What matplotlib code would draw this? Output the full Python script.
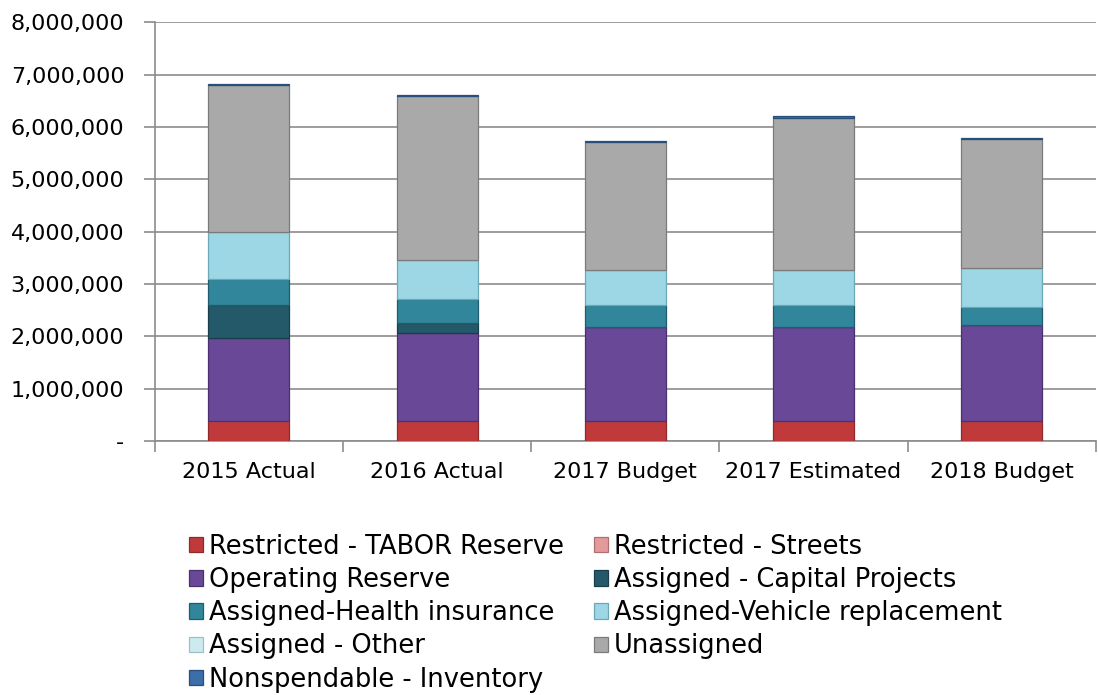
import matplotlib
matplotlib.use("Agg")
import matplotlib.pyplot as plt
import numpy as np

# ── Data ──────────────────────────────────────────────────────────────────────

categories = ["2015 Actual", "2016 Actual", "2017 Budget", "2017 Estimated", "2018 Budget"]

tabor        = [380000, 380000, 380000, 380000, 380000]
streets      = [0, 0, 0, 0, 0]
operating    = [1590000, 1680000, 1800000, 1800000, 1830000]
capital      = [630000, 190000, 0, 0, 0]
health       = [490000, 460000, 420000, 420000, 350000]
vehicle      = [900000, 740000, 660000, 660000, 740000]
other        = [0, 0, 0, 0, 0]
unassigned   = [2810000, 3140000, 2450000, 2920000, 2460000]
nonspendable = [25000, 25000, 25000, 25000, 25000]

series_names = [
    "Restricted - TABOR Reserve", "Restricted - Streets", "Operating Reserve",
    "Assigned - Capital Projects", "Assigned-Health insurance",
    "Assigned-Vehicle replacement", "Assigned - Other", "Unassigned",
    "Nonspendable - Inventory",
]
series_values = [tabor, streets, operating, capital, health,
                 vehicle, other, unassigned, nonspendable]
series_colors = ["#C0393B", "#E39A9C", "#6A4898", "#24596A", "#31869C",
                 "#9DD6E4", "#CDEAF1", "#A9A9A9", "#3C6EA8"]
edge_colors   = ["#8E2A2C", "#B07070", "#4A3070", "#173E4A", "#1F5C6C",
                 "#6BA8B8", "#9CC0C8", "#7A7A7A", "#284E7A"]

yticks = [0, 1000000, 2000000, 3000000, 4000000, 5000000, 6000000, 7000000, 8000000]
ytick_labels = ["-", "1,000,000", "2,000,000", "3,000,000", "4,000,000",
                "5,000,000", "6,000,000", "7,000,000", "8,000,000"]

# ── Plot ──────────────────────────────────────────────────────────────────────

plt.rcParams["font.family"] = ["DejaVu Sans"]

fig = plt.figure(figsize=(10.98, 6.95), dpi=100)
ax = fig.add_axes([0.141, 0.3655, 0.857, 0.6025])

x = np.arange(len(categories))
bottom = np.zeros(len(categories))
handles = []
for name, vals, col, ec in zip(series_names, series_values, series_colors, edge_colors):
    vals = np.array(vals, dtype=float)
    b = ax.bar(x, vals, width=0.43, bottom=bottom, color=col,
               edgecolor=ec, linewidth=0.9, label=name, zorder=3)
    handles.append(b)
    bottom += vals

ax.set_xlim(-0.5, len(categories) - 0.5)
ax.set_ylim(0, 8000000)
ax.set_yticks(yticks)
ax.set_yticklabels(ytick_labels, fontsize=16)
ax.yaxis.grid(True, color="#8C8C8C", linewidth=1.2, zorder=0)
ax.set_axisbelow(True)

ax.set_xticks(x)
ax.set_xticklabels(categories, fontsize=16)
ax.set_xticks(np.arange(len(categories) + 1) - 0.5, minor=True)
ax.tick_params(axis="x", which="major", length=0, pad=15)
ax.tick_params(axis="x", which="minor", length=8, color="#8C8C8C", width=1.2)
ax.tick_params(axis="y", length=8, color="#8C8C8C", width=1.2, pad=14)

for side in ["top", "right"]:
    ax.spines[side].set_visible(False)
for side in ["left", "bottom"]:
    ax.spines[side].set_color("#8C8C8C")
    ax.spines[side].set_linewidth(1.2)

# Legend: two fixed columns, filled row-wise like the original
leg_kw = dict(loc="upper left", fontsize=18.5, frameon=False,
              handlelength=0.55, handleheight=0.55, handletextpad=0.22,
              labelspacing=0.28, borderaxespad=0, borderpad=0)
col1 = [0, 2, 4, 6, 8]
col2 = [1, 3, 5, 7]
fig.legend([handles[i] for i in col1], [series_names[i] for i in col1],
           bbox_to_anchor=(0.172, 0.232), **leg_kw)
fig.legend([handles[i] for i in col2], [series_names[i] for i in col2],
           bbox_to_anchor=(0.541, 0.232), **leg_kw)

fig.savefig("out.png", dpi=100)
